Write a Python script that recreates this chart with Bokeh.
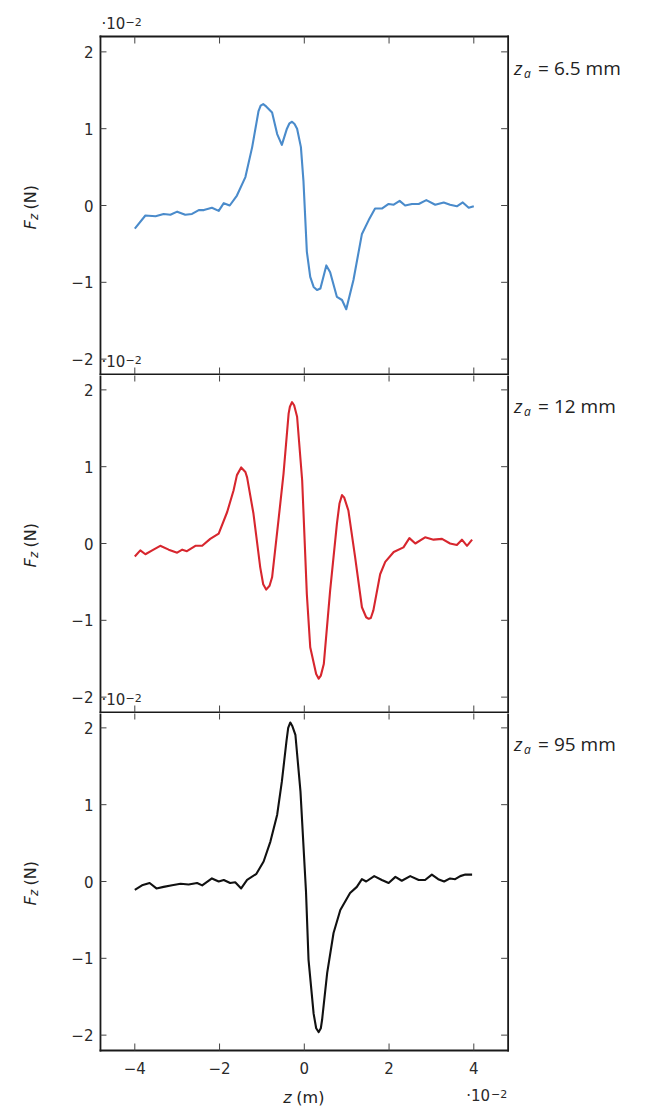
import math
from bokeh.plotting import figure
from bokeh.layouts import column
from bokeh.models import Label, Range1d, ColumnDataSource
from bokeh.embed import file_html
from bokeh.resources import INLINE

# z in units of 1e-2 m, F_z in units of 1e-2 N
z1 = [-4.00, -3.75, -3.51, -3.32, -3.16, -3.00, -2.81, -2.65, -2.49, -2.37, -2.18, -2.02, -1.90, -1.76,
      -1.59, -1.39, -1.23, -1.08, -1.03, -0.97, -0.90, -0.76, -0.64, -0.53, -0.41, -0.35, -0.29, -0.23,
      -0.17, -0.08, -0.02, 0.06, 0.14, 0.22, 0.30, 0.38, 0.52, 0.61, 0.77, 0.89, 0.99, 1.16, 1.36, 1.52,
      1.67, 1.83, 1.99, 2.11, 2.25, 2.38, 2.54, 2.70, 2.88, 3.09, 3.29, 3.44, 3.60, 3.74, 3.88, 4.00]
f1 = [-0.30, -0.13, -0.14, -0.11, -0.12, -0.08, -0.12, -0.11, -0.06, -0.06, -0.03, -0.07, 0.03, 0.00,
      0.13, 0.37, 0.76, 1.23, 1.30, 1.32, 1.29, 1.21, 0.93, 0.79, 1.00, 1.07, 1.09, 1.06,
      1.00, 0.76, 0.32, -0.60, -0.93, -1.06, -1.10, -1.08, -0.78, -0.87, -1.19, -1.23, -1.35, -0.97, -0.37, -0.19,
      -0.04, -0.04, 0.02, 0.01, 0.06, 0.00, 0.02, 0.02, 0.07, 0.01, 0.04, 0.01, -0.01, 0.04, -0.03, -0.01]

z2 = [-4.00, -3.87, -3.75, -3.59, -3.40, -3.20, -3.00, -2.88, -2.77, -2.57, -2.41, -2.22, -2.02, -1.82,
      -1.67, -1.59, -1.49, -1.39, -1.35, -1.20, -1.04, -0.97, -0.90, -0.82, -0.76, -0.61, -0.49, -0.37,
      -0.34, -0.29, -0.24, -0.17, -0.05, 0.06, 0.14, 0.28, 0.34, 0.39, 0.46, 0.61, 0.77, 0.83, 0.89, 0.94,
      1.04, 1.20, 1.36, 1.46, 1.52, 1.57, 1.63, 1.79, 1.91, 2.11, 2.34, 2.48, 2.62, 2.85, 3.05, 3.25,
      3.44, 3.60, 3.72, 3.84, 3.96]
f2 = [-0.17, -0.09, -0.14, -0.09, -0.03, -0.08, -0.12, -0.08, -0.10, -0.03, -0.03, 0.06, 0.13, 0.41,
      0.69, 0.89, 0.99, 0.93, 0.86, 0.39, -0.31, -0.53, -0.60, -0.55, -0.44, 0.30, 0.91, 1.69,
      1.78, 1.84, 1.80, 1.65, 0.82, -0.66, -1.35, -1.70, -1.76, -1.72, -1.57, -0.61, 0.26, 0.52, 0.63, 0.60,
      0.43, -0.18, -0.83, -0.96, -0.98, -0.97, -0.87, -0.40, -0.24, -0.11, -0.05, 0.07, 0.00, 0.08, 0.05, 0.06,
      0.00, -0.02, 0.05, -0.03, 0.05]

z3 = [-4.00, -3.83, -3.65, -3.49, -3.32, -3.12, -2.92, -2.73, -2.53, -2.41, -2.18, -2.02, -1.90, -1.75,
      -1.63, -1.49, -1.35, -1.13, -0.96, -0.80, -0.64, -0.53, -0.42, -0.38, -0.33, -0.28, -0.21, -0.09,
      0.04, 0.10, 0.22, 0.28, 0.34, 0.39, 0.42, 0.54, 0.69, 0.85, 1.08, 1.24, 1.36, 1.46, 1.65, 1.83,
      1.99, 2.15, 2.30, 2.50, 2.70, 2.85, 3.01, 3.16, 3.30, 3.44, 3.56, 3.68, 3.80, 3.96]
f3 = [-0.11, -0.05, -0.02, -0.09, -0.07, -0.05, -0.03, -0.04, -0.02, -0.05, 0.04, 0.00, 0.02, -0.02,
      -0.01, -0.09, 0.02, 0.10, 0.26, 0.52, 0.87, 1.30, 1.83, 2.00, 2.07, 2.02, 1.91, 1.17,
      -0.13, -1.02, -1.72, -1.91, -1.96, -1.91, -1.80, -1.19, -0.67, -0.37, -0.15, -0.07, 0.03, 0.00, 0.07, 0.02,
      -0.02, 0.06, 0.01, 0.07, 0.02, 0.02, 0.09, 0.03, 0.00, 0.04, 0.03, 0.07, 0.09, 0.09]

za_labels = ["6.5 mm", "12 mm", "95 mm"]
x_ticks = [-4, -2, 0, 2, 4]
y_ticks = [-2, -1, 0, 1, 2]

# ---- layout / style constants ----
colors = ["#4a8bcb", "#d7262e", "#111111"]
W = 651
PX_X = 42.375                                  # pixels per x unit
X0_PX = 303.8                                  # pixel column of z = 0
BOX_X = (-4.81, 4.81)                          # plot box in data units
BOX_Y = (-2.2, 2.2)
BOX_H = 338                                    # plot box height, px
BOX_TOP_ROWS = [36, 374, 712]                  # page row of each box's top side
CANVAS_ROWS = [(0, 375), (375, 713), (713, 1111)]  # page rows covered by each figure
PX_Y = BOX_H / (BOX_Y[1] - BOX_Y[0])           # pixels per y unit
TICK_FONT = "DejaVu Sans"
ANN_FONT = "Open Sans"
TXT = "#222222"
FRAME_COLOR = "#1a1a1a"
FRAME_W = 1.8


def tick_text(v):
    return "\u2212%d" % (-v) if v < 0 else "%d" % v


def lab(p, x, y, text, **kw):
    opts = dict(text_font=TICK_FONT, text_font_size="15px", text_color=TXT,
                text_baseline="middle", text_align="left")
    opts.update(kw)
    p.add_layout(Label(x=x, y=y, text=text, **opts))


def multiplier(p, x, y, dx, dy, align="left"):
    # "·10" followed by a raised "−2"
    if align == "left":
        lab(p, x, y, "\u00b710", x_offset=dx, y_offset=dy, text_baseline="bottom", text_color="#2a2a2a")
        lab(p, x, y, "\u22122", x_offset=dx + 24, y_offset=dy + 7, text_baseline="bottom",
            text_font_size="11px", text_color="#2a2a2a")
    else:
        lab(p, x, y, "\u00b710", x_offset=dx - 17, y_offset=dy, text_baseline="bottom",
            text_align="right", text_color="#2a2a2a")
        lab(p, x, y, "\u22122", x_offset=dx, y_offset=dy + 7, text_baseline="bottom",
            text_align="right", text_font_size="11px", text_color="#2a2a2a")


x_range = (-X0_PX / PX_X, (W - X0_PX) / PX_X)

figs = []
for i, (z, f) in enumerate([(z1, f1), (z2, f2), (z3, f3)]):
    c_top, c_bot = CANVAS_ROWS[i]
    b_top = BOX_TOP_ROWS[i]
    y_range = (BOX_Y[1] - (c_bot - b_top) / PX_Y, BOX_Y[1] - (c_top - b_top) / PX_Y)
    p = figure(width=W, height=c_bot - c_top,
               x_range=Range1d(*x_range), y_range=Range1d(*y_range),
               output_backend="svg", toolbar_location=None,
               x_axis_location=None, y_axis_location=None,
               min_border=0, min_border_left=0, min_border_right=0,
               min_border_top=0, min_border_bottom=0)
    p.xgrid.visible = False
    p.ygrid.visible = False
    p.outline_line_color = None
    p.background_fill_color = "white"
    p.border_fill_color = "white"

    # plot box: the side shared with the panel above is drawn only once, by that panel
    sides = dict(x0=[BOX_X[0], BOX_X[1], BOX_X[0]], y0=[BOX_Y[0], BOX_Y[0], BOX_Y[0]],
                 x1=[BOX_X[0], BOX_X[1], BOX_X[1]], y1=[BOX_Y[1], BOX_Y[1], BOX_Y[0]])
    if b_top >= c_top:
        for k, v in zip(("x0", "y0", "x1", "y1"), (BOX_X[0], BOX_Y[1], BOX_X[1], BOX_Y[1])):
            sides[k].append(v)
    p.segment(x0="x0", y0="y0", x1="x1", y1="y1", line_width=FRAME_W, line_color=FRAME_COLOR,
              line_cap="square", source=ColumnDataSource(sides))

    # inward ticks on all four sides
    tick_style = dict(line_color="#444444", line_width=1, length_units="screen")
    xt = ColumnDataSource(dict(x=x_ticks, top=[BOX_Y[1]] * len(x_ticks), bot=[BOX_Y[0]] * len(x_ticks)))
    yt = ColumnDataSource(dict(y=y_ticks, l=[BOX_X[0]] * len(y_ticks), r=[BOX_X[1]] * len(y_ticks)))
    p.ray(x="x", y="top", length=7, angle=-math.pi / 2, source=xt, **tick_style)
    p.ray(x="x", y="bot", length=7, angle=math.pi / 2, source=xt, **tick_style)
    p.ray(x="l", y="y", length=6, angle=0, source=yt, **tick_style)
    p.ray(x="r", y="y", length=7, angle=math.pi, source=yt, **tick_style)

    # y tick labels
    for v in y_ticks:
        lab(p, BOX_X[0], v, tick_text(v), x_offset=-7, text_align="right", text_color="#2a2a2a")

    # data curve
    p.line(z, f, line_color=colors[i], line_width=2.1, line_join="round")

    # z_a annotation at the right
    ya = BOX_Y[1] - 31 / PX_Y
    lab(p, BOX_X[1], ya, "z", x_offset=6, text_font=ANN_FONT, text_font_style="italic",
        text_font_size="19px")
    lab(p, BOX_X[1], ya, "a", x_offset=16, y_offset=-6, text_font=ANN_FONT, text_font_style="italic",
        text_font_size="12px")
    lab(p, BOX_X[1], ya, "= " + za_labels[i], x_offset=30, text_font=ANN_FONT, text_font_size="19px")

    # rotated y-axis title: F_z (N)
    ang = math.pi / 2
    lab(p, BOX_X[0], 0, "F", x_offset=-70, y_offset=-24, angle=ang, text_font_style="italic",
        text_font_size="16px")
    lab(p, BOX_X[0], 0, "z", x_offset=-66, y_offset=-14.5, angle=ang, text_font_style="italic",
        text_font_size="12px")
    lab(p, BOX_X[0], 0, "(N)", x_offset=-70, y_offset=-4, angle=ang, text_font_size="16px")

    # exponent of the y axis (just above the box top-left); for panels 2 and 3 it sits
    # at the bottom of the panel above
    if i == 0:
        multiplier(p, BOX_X[0], BOX_Y[1], 1, 4)
    if i < 2:
        multiplier(p, BOX_X[0], BOX_Y[0], 1, 4)
    if i == 2:
        for v in x_ticks:
            lab(p, v, BOX_Y[0], tick_text(v), y_offset=-17, text_align="center", text_color="#2a2a2a")
        lab(p, 0, BOX_Y[0], "z", x_offset=-21, y_offset=-47, text_font_style="italic", text_font_size="16px")
        lab(p, 0, BOX_Y[0], "(m)", x_offset=-8, y_offset=-47, text_font_size="16px")
        multiplier(p, BOX_X[1], BOX_Y[0], -1, -54, align="right")
    figs.append(p)

layout = column(*figs, spacing=0)
open("out.html", "w").write(file_html(layout, INLINE))
